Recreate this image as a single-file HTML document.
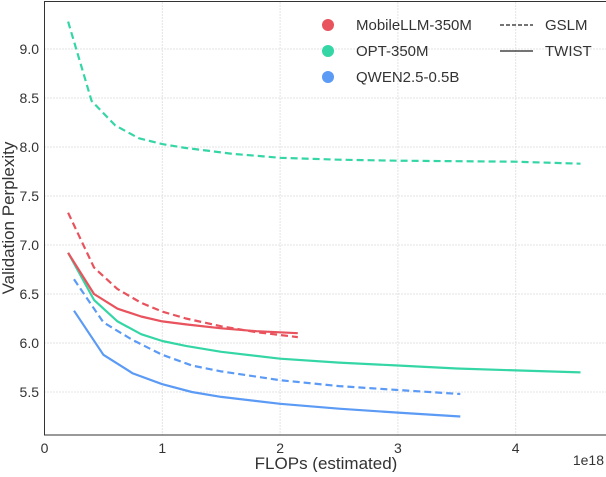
<!DOCTYPE html>
<html><head><meta charset="utf-8"><style>
body{margin:0;background:#fff}
svg text{font-family:"Liberation Sans",sans-serif;fill:#333}
</style></head><body>
<svg id="chart" width="606" height="472" xmlns="http://www.w3.org/2000/svg">
<g id="grid"></g>
<g id="series"></g>
<rect x="44.5" y="1.5" width="562" height="433.5" fill="none" stroke="#333" stroke-width="1"/>
<g id="ticks"></g>
<text x="326" y="469" text-anchor="middle" font-size="17">FLOPs (estimated)</text>
<text x="604" y="465" text-anchor="end" font-size="14">1e18</text>
<text transform="translate(14,218) rotate(-90)" text-anchor="middle" font-size="17">Validation Perplexity</text>
<g font-size="15">
<circle cx="328" cy="25" r="6" fill="#e8535d"/>
<text x="356" y="30">MobileLLM-350M</text>
<circle cx="328" cy="51" r="6" fill="#35d6a6"/>
<text x="356" y="56">OPT-350M</text>
<circle cx="328" cy="77" r="6" fill="#5b9af5"/>
<text x="356" y="82">QWEN2.5-0.5B</text>
<line x1="500" y1="25" x2="533" y2="25" stroke="#222" stroke-width="1.3" stroke-dasharray="4,2"/>
<text x="545" y="30">GSLM</text>
<line x1="500" y1="51" x2="533" y2="51" stroke="#222" stroke-width="1.3"/>
<text x="545" y="56">TWIST</text>
</g>
</svg>
<script>
const xTicks=[0,1,2,3,4];
const yTicks=[5.5,6.0,6.5,7.0,7.5,8.0,8.5,9.0];
const optGslmX=[0.2,0.4,0.6,0.8,1.0,1.2,1.4,1.6,1.8,2.0,2.5,3.0,3.5,4.0,4.55];
const optGslmY=[9.28,8.47,8.22,8.09,8.03,7.99,7.96,7.93,7.91,7.89,7.87,7.86,7.855,7.85,7.83];
const optTwistX=[0.2,0.42,0.62,0.82,1.0,1.2,1.5,2.0,2.5,3.0,3.5,4.0,4.55];
const optTwistY=[6.92,6.44,6.22,6.09,6.02,5.97,5.91,5.84,5.80,5.77,5.74,5.72,5.70];
const mobTwistX=[0.2,0.42,0.62,0.82,1.0,1.2,1.5,1.8,2.15];
const mobTwistY=[6.92,6.50,6.35,6.27,6.22,6.19,6.15,6.12,6.10];
const mobGslmX=[0.2,0.42,0.62,0.82,1.0,1.2,1.5,1.8,2.15];
const mobGslmY=[7.33,6.77,6.55,6.41,6.32,6.25,6.17,6.11,6.06];
const qwenGslmX=[0.25,0.5,0.75,1.0,1.25,1.5,2.0,2.5,3.0,3.53];
const qwenGslmY=[6.65,6.21,6.03,5.88,5.77,5.71,5.62,5.56,5.52,5.48];
const qwenTwistX=[0.25,0.5,0.75,1.0,1.25,1.5,2.0,2.5,3.0,3.53];
const qwenTwistY=[6.33,5.88,5.69,5.58,5.50,5.45,5.38,5.33,5.29,5.25];
const NS='http://www.w3.org/2000/svg';
const xs=v=>44.5+v*117.8;
const ys=v=>49+(9.0-v)*98;
const grid=document.getElementById('grid'),ticks=document.getElementById('ticks'),ser=document.getElementById('series');
function mk(tag,attrs,parent){const e=document.createElementNS(NS,tag);for(const k in attrs)e.setAttribute(k,attrs[k]);parent.appendChild(e);return e;}
xTicks.forEach(t=>{
  const l=mk('line',{x1:xs(t),x2:xs(t),y1:2,y2:435,stroke:'#e3e3e3','stroke-dasharray':'2,1'},grid);
  
  
  const tx=mk('text',{x:xs(t),y:453,'text-anchor':'middle','font-size':'14'},ticks);
  
  
  tx.textContent=t;
});
yTicks.forEach(t=>{
  const l=mk('line',{x1:44,x2:606,y1:ys(t),y2:ys(t),stroke:'#e3e3e3','stroke-dasharray':'2,1'},grid);
  
  
  const tx=mk('text',{x:39,y:ys(t)+5,'text-anchor':'end','font-size':'14'},ticks);
  
  
  tx.textContent=t.toFixed(1);
});
function line(X,Y,color,dash,name){
  const d=X.map((x,i)=>(i?'L':'M')+xs(x).toFixed(1)+','+ys(Y[i]).toFixed(1)).join('');
  const p=mk('path',{d:d,fill:'none',stroke:color,'stroke-width':'2.2','stroke-linejoin':'round'},ser);
  if(dash)p.setAttribute('stroke-dasharray','7,4');
  
  
}
line(optGslmX,optGslmY,'#35d6a6',true,'opt-gslm-line');
line(optTwistX,optTwistY,'#35d6a6',false,'opt-twist-line');
line(mobGslmX,mobGslmY,'#e8535d',true,'mobilellm-gslm-line');
line(mobTwistX,mobTwistY,'#e8535d',false,'mobilellm-twist-line');
line(qwenGslmX,qwenGslmY,'#5b9af5',true,'qwen-gslm-line');
line(qwenTwistX,qwenTwistY,'#5b9af5',false,'qwen-twist-line');
</script>
</body></html>
